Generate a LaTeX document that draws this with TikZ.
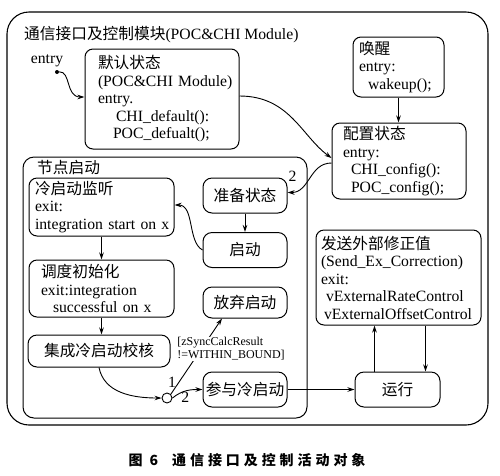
\documentclass[tikz,border=0pt]{standalone}
\usepackage{fontspec}
\setmainfont{Liberation Serif}
\newfontfamily\cjk{Noto Sans CJK SC}
\newcommand\zhtext[1]{{\cjk #1}}
\usetikzlibrary{arrows.meta,positioning}
\tikzset{statebox/.style={draw,rounded corners=8pt,line width=1pt,align=left,inner ysep=0pt,inner xsep=6pt,execute at begin node={\hyphenpenalty=10000\relax}},cstate/.style={draw,rounded corners=9pt,line width=1pt,align=center,inner sep=0pt,minimum width=84pt,minimum height=35pt},region/.style={draw,rounded corners=11pt,line width=1pt},module/.style={draw,rounded corners=22pt,line width=1.1pt},arr/.style={-{Stealth[length=7pt,width=4.5pt]},line width=0.9pt},guard/.style={fill=white,inner sep=1pt,align=left,font=\fontsize{12}{13}\selectfont},initdot/.style={circle,fill,inner sep=0pt,minimum size=4pt},junc/.style={circle,draw,line width=0.9pt,inner sep=0pt,minimum size=10pt}}

\begin{document}
\begin{tikzpicture}[x=1pt,y=-1pt,font=\fontsize{15.7}{17.5}\selectfont]
\useasboundingbox (0,0) rectangle (500,475);
\node[module,minimum width=481pt,minimum height=413pt] (mod) at (247.5,218.5) {};
\node[anchor=west,inner sep=0pt] (modtitle) at (24,35) {\zhtext{通信接口及控制模块}(POC\&CHI Module)};
\node[initdot] (init) at (57,72) {};
\node (entrylbl) at (47,61) {entry};
\node[statebox,text width=128pt,inner xsep=13pt,minimum height=100pt] (default) at (162,99) {\zhtext{默认状态}\\\mbox{(POC\&CHI Module)}\\entry.\\\hspace*{18pt}CHI\_default():\\\hspace*{15pt}POC\_defualt();};
\node[statebox,text width=79pt,minimum height=60pt] (wake) at (398.5,67) {\zhtext{唤醒}\\entry:\\\hspace*{9pt}wakeup();};
\node[statebox,text width=112pt,inner xsep=11pt,minimum height=76pt] (config) at (399,161) {\zhtext{配置状态}\\entry:\\\hspace*{8pt}CHI\_config():\\\hspace*{8pt}POC\_config();};
\node[region,minimum width=284pt,minimum height=261pt] (boot) at (165,287.5) {};
\node[anchor=west,inner sep=0pt] (boottitle) at (37,168) {\zhtext{节点启动}};
\node[statebox,text width=133pt,minimum height=58pt] (listen) at (101.5,207) {\zhtext{冷启动监听}\\exit:\\\mbox{integration start on x}};
\node[statebox,text width=121pt,inner xsep=12pt,minimum height=57pt] (sched) at (101.5,288.5) {\zhtext{调度初始化}\\exit:integration\\\hspace*{12pt}\mbox{successful on x}};
\node[cstate,minimum width=142pt,minimum height=32pt] (integ) at (99,351) {\zhtext{集成冷启动校核}};
\node[cstate] (ready) at (245,195.5) {\zhtext{准备状态}};
\node[cstate] (launch) at (245,250) {\zhtext{启动}};
\node[cstate,minimum height=31pt] (abort) at (245,302.5) {\zhtext{放弃启动}};
\node[cstate] (join) at (245,389.5) {\zhtext{参与冷启动}};
\node[cstate,minimum width=85pt] (run) at (397.5,389.5) {\zhtext{运行}};
\node[statebox,text width=155pt,inner xsep=5pt,minimum height=95pt] (send) at (398.5,277.5) {\zhtext{发送外部修正值}\\(Send\_Ex\_Correction)\\exit:\\\hspace*{5pt}vExternalRateControl\\\hspace*{3pt}vExternalOffsetControl};
\node[junc] (fork) at (167,398) {};
\draw[arr] (init) .. controls +(14,-1) and +(-19,0) .. ([yshift=2pt]default.west);
\draw[arr] ([yshift=3pt]default.east) .. controls +(50,0) and +(-30,-22) .. ([yshift=3pt]config.west);
\draw[arr] ([yshift=-2pt]config.west) .. controls +(-22,0) and +(22,0) .. ([yshift=3pt]ready.east) node[at end,xshift=5pt,yshift=16pt] {2};
\draw[arr] (wake.south) -- (wake.south |- config.north);
\draw[arr] (ready) -- (launch);
\draw[arr] (launch.west) .. controls +(-15,-8) and +(20,0) .. ([yshift=2pt]listen.east);
\draw[arr] (listen) -- (sched);
\draw[arr] (sched.south) -- (sched.south |- integ.north);
\draw[arr] (integ.south) .. controls +(5,25) and +(-30,0) .. (fork.west);
\draw[arr] (fork.north east) -- ([xshift=-23pt]abort.south) node[pos=.15,left,inner sep=2pt] {1};
\node[guard] (grd) at (231,349) {[zSyncCalcResult\\!=WITHIN\_BOUND]};
\draw[arr] (fork.east) .. controls +(10,-8) and +(-12,0) .. (join.west) node[pos=.45,below,inner sep=1pt] {2};
\draw[arr] (join) -- (run);
\draw[arr] ([xshift=20pt]run.north west) -- ([xshift=20pt]run.north west |- send.south);
\draw[arr] ([xshift=-15pt]run.north east |- send.south) -- ([xshift=-15pt]run.north east);
\node[font=\cjk\bfseries\fontsize{14}{14}\selectfont\addfontfeature{LetterSpace=28}] (cap) at (247,460) {图~6\hspace{14pt}通信接口及控制活动对象};
\end{tikzpicture}
\end{document}
